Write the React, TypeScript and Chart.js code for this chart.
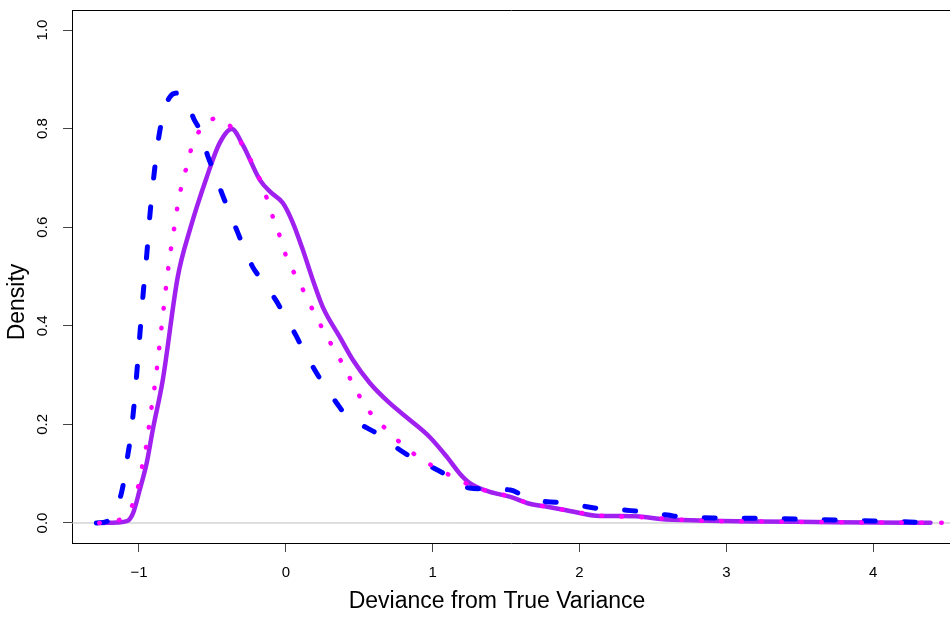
import React, { useEffect, useRef } from "react";
import { Chart, registerables } from "chart.js";

Chart.register(...registerables);

// ---- Data ----
const X_TICKS = [-1, 0, 1, 2, 3, 4];
const X_TICK_LABELS = ["\u22121", "0", "1", "2", "3", "4"];
const Y_TICKS = [0, 0.2, 0.4, 0.6, 0.8, 1.0];
const Y_TICK_LABELS = ["0.0", "0.2", "0.4", "0.6", "0.8", "1.0"];

const X_TITLE = "Deviance from True Variance";
const Y_TITLE = "Density";

// solid purple density
const solidX = [-1.25, -1.15, -1.08, -1.04, -0.995, -0.947, -0.906, -0.838, -0.736, -0.654, -0.538, -0.45, -0.368, -0.293, -0.177, -0.1, -0.02, 0.048, 0.116, 0.184, 0.252, 0.368, 0.456, 0.572, 0.708, 0.845, 0.981, 1.097, 1.185, 1.253, 1.39, 1.53, 1.66, 1.78, 1.91, 2.14, 2.28, 2.41, 2.55, 2.82, 3.2, 3.6, 4.0, 4.39];
const solidY = [0, 0.001, 0.004, 0.02, 0.067, 0.122, 0.189, 0.29, 0.499, 0.594, 0.702, 0.771, 0.799, 0.767, 0.696, 0.67, 0.649, 0.609, 0.554, 0.493, 0.438, 0.377, 0.331, 0.284, 0.243, 0.209, 0.174, 0.134, 0.1, 0.081, 0.063, 0.053, 0.039, 0.033, 0.026, 0.014, 0.014, 0.013, 0.008, 0.005, 0.003, 0.002, 0.001, 0.0005];

// dotted magenta density
const dottedX = [-1.27, -1.11, -1.035, -1.0, -0.975, -0.947, -0.93, -0.91, -0.89, -0.845, -0.797, -0.777, -0.756, -0.736, -0.708, -0.674, -0.64, -0.579, -0.47, -0.361, -0.293, -0.225, -0.17, -0.123, -0.082, -0.034, 0.007, 0.068, 0.129, 0.19, 0.252, 0.32, 0.388, 0.45, 0.518, 0.593, 0.688, 0.79, 0.892, 1.01, 1.13, 1.3, 1.45, 1.66, 1.91, 2.14, 2.41, 2.8, 3.2, 3.6, 4.0, 4.6];
const dottedY = [0, 0.01, 0.043, 0.081, 0.12, 0.162, 0.2, 0.243, 0.284, 0.4, 0.525, 0.566, 0.606, 0.645, 0.686, 0.724, 0.763, 0.799, 0.821, 0.799, 0.765, 0.728, 0.692, 0.653, 0.615, 0.576, 0.537, 0.501, 0.466, 0.428, 0.393, 0.357, 0.322, 0.286, 0.249, 0.217, 0.189, 0.16, 0.136, 0.114, 0.095, 0.071, 0.06, 0.04, 0.026, 0.015, 0.012, 0.005, 0.003, 0.002, 0.001, 0.0005];

// dashed blue density
const dashedX = [-1.29, -1.22, -1.185, -1.15, -1.12, -1.1, -1.076, -1.06, -1.04, -1.03, -1.0, -0.97, -0.947, -0.926, -0.9, -0.88, -0.865, -0.83, -0.79, -0.742, -0.708, -0.66, -0.627, -0.579, -0.531, -0.49, -0.436, -0.395, -0.334, -0.293, -0.225, -0.163, -0.068, -0.014, 0.068, 0.116, 0.198, 0.252, 0.347, 0.415, 0.552, 0.654, 0.777, 0.865, 1.01, 1.12, 1.25, 1.37, 1.53, 1.63, 1.78, 1.89, 2.05, 2.16, 2.32, 2.44, 2.6, 2.7, 3.0, 3.3, 3.6, 4.0, 4.37];
const dashedY = [0, 0.003, 0.012, 0.035, 0.06, 0.09, 0.138, 0.168, 0.22, 0.25, 0.36, 0.47, 0.544, 0.623, 0.7, 0.75, 0.783, 0.835, 0.864, 0.872, 0.864, 0.845, 0.82, 0.793, 0.744, 0.714, 0.669, 0.639, 0.594, 0.564, 0.519, 0.493, 0.452, 0.424, 0.381, 0.353, 0.31, 0.284, 0.243, 0.217, 0.193, 0.176, 0.148, 0.132, 0.111, 0.093, 0.071, 0.069, 0.067, 0.053, 0.043, 0.041, 0.033, 0.028, 0.026, 0.022, 0.016, 0.012, 0.01, 0.009, 0.007, 0.004, 0.001];

const ZERO_LINE_X = [-1.5, 4.6];

const X_MIN = -1.456;
const X_MAX = 4.523;
const Y_MIN = -0.0406;
const Y_MAX = 1.0406;

const FONT = "'Liberation Sans', Arial, Helvetica, sans-serif";

function pts(xs: number[], ys: number[]) {
  return xs.map((x, i) => ({ x, y: ys[i] }));
}

const decorPlugin = {
  id: "decor",
  afterDraw(chart: any) {
    const { ctx, chartArea } = chart;
    ctx.save();
    // top edge of the box (right edge lies beyond the canvas)
    ctx.strokeStyle = "#000";
    ctx.lineWidth = 1;
    ctx.beginPath();
    ctx.moveTo(chartArea.left, chartArea.top + 0.5);
    ctx.lineTo(chartArea.right + 5, chartArea.top + 0.5);
    ctx.stroke();
    // axis titles
    ctx.fillStyle = "#000";
    ctx.font = `23px ${FONT}`;
    ctx.textAlign = "center";
    ctx.textBaseline = "middle";
    ctx.fillText(X_TITLE, 497, 602);
    ctx.translate(18, 302);
    ctx.rotate(-Math.PI / 2);
    ctx.fillText(Y_TITLE, 0, 0);
    ctx.restore();
  },
};

export default function App() {
  const ref = useRef<HTMLCanvasElement | null>(null);

  useEffect(() => {
    document.body.style.margin = "0";
    const canvas = ref.current;
    if (!canvas) return;
    const chart = new Chart(canvas, {
      type: "line",
      data: {
        datasets: [
          {
            label: "dotted",
            data: pts(dottedX, dottedY),
            borderColor: "#FF00FF",
            borderWidth: 4.5,
            borderDash: [0.5, 19.5],
            borderCapStyle: "round",
            pointRadius: 0,
            cubicInterpolationMode: "monotone",
            fill: false,
            order: 1,
          },
          {
            label: "dashed",
            data: pts(dashedX, dashedY),
            borderColor: "#0000FF",
            borderWidth: 5,
            borderDash: [11, 29],
            borderCapStyle: "round",
            pointRadius: 0,
            cubicInterpolationMode: "monotone",
            fill: false,
            order: 2,
          },
          {
            label: "solid",
            data: pts(solidX, solidY),
            borderColor: "#A020F0",
            borderWidth: 4.5,
            borderCapStyle: "round",
            borderJoinStyle: "round",
            pointRadius: 0,
            cubicInterpolationMode: "monotone",
            fill: false,
            order: 3,
          },
          {
            label: "zero",
            data: ZERO_LINE_X.map((x) => ({ x, y: 0 })),
            borderColor: "#bebebe",
            borderWidth: 1,
            pointRadius: 0,
            fill: false,
            order: 4,
          },
        ],
      },
      options: {
        responsive: false,
        animation: false,
        events: [],
        layout: { padding: { top: 10, right: 0, left: 0, bottom: 0 } },
        plugins: {
          legend: { display: false },
          tooltip: { enabled: false },
        },
        scales: {
          x: {
            type: "linear",
            min: X_MIN,
            max: X_MAX,
            afterBuildTicks: (scale: any) => {
              scale.ticks = X_TICKS.map((v) => ({ value: v }));
            },
            afterFit: (scale: any) => {
              scale.height = 97;
              scale.paddingLeft = 0;
              scale.paddingRight = 0;
            },
            grid: {
              drawOnChartArea: false,
              drawTicks: true,
              tickLength: 9,
              color: "#444",
            },
            border: { display: true, color: "#000", width: 1 },
            ticks: {
              autoSkip: false,
              maxRotation: 0,
              minRotation: 0,
              padding: 12,
              color: "#000",
              font: { family: FONT, size: 15 },
              callback: (v: any) => {
                const i = X_TICKS.indexOf(Number(v));
                return i >= 0 ? X_TICK_LABELS[i] : "";
              },
            },
            title: { display: false },
          },
          y: {
            type: "linear",
            min: Y_MIN,
            max: Y_MAX,
            afterBuildTicks: (scale: any) => {
              scale.ticks = Y_TICKS.map((v) => ({ value: v }));
            },
            afterFit: (scale: any) => {
              scale.width = 72;
              scale.paddingTop = 0;
              scale.paddingBottom = 0;
            },
            grid: {
              drawOnChartArea: false,
              drawTicks: true,
              tickLength: 9,
              color: "#444",
            },
            border: { display: true, color: "#000", width: 1 },
            ticks: {
              autoSkip: false,
              minRotation: 90,
              maxRotation: 90,
              crossAlign: "center",
              padding: 10,
              color: "#000",
              font: { family: FONT, size: 15 },
              callback: (v: any) => {
                const i = Y_TICKS.findIndex((t) => Math.abs(t - Number(v)) < 1e-9);
                return i >= 0 ? Y_TICK_LABELS[i] : "";
              },
            },
            title: { display: false },
          },
        },
      },
      plugins: [decorPlugin],
    } as any);
    return () => chart.destroy();
  }, []);

  return (
    <div style={{ width: 950, height: 640 }}>
      <canvas ref={ref} width={950} height={640} />
    </div>
  );
}
